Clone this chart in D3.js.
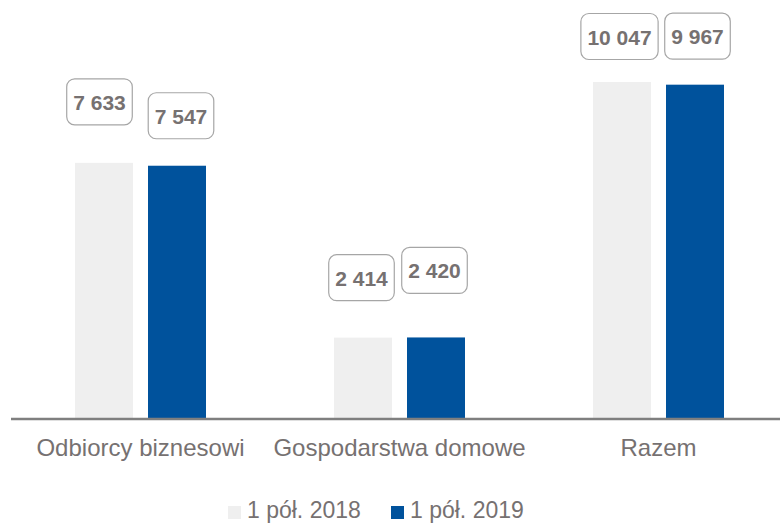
<!DOCTYPE html>
<html>
<head>
  <meta charset="utf-8">
  <script src="https://cdn.jsdelivr.net/npm/d3@7/dist/d3.min.js"></script>
  <style>
    body { margin: 0; background: #fff; }
    text { font-family: "Liberation Sans", Arial, sans-serif; }
  </style>
</head>
<body>
  <svg width="780" height="525" id="chart"></svg>
  <script>
    // data
    const categories = ['Odbiorcy biznesowi', 'Gospodarstwa domowe', 'Razem'];
    const seriesNames = ['1 pół. 2018', '1 pół. 2019'];
    const values2018 = [7633, 2414, 10047];
    const values2019 = [7547, 2420, 9967];
    const valueLabels2018 = ['7 633', '2 414', '10 047'];
    const valueLabels2019 = ['7 547', '2 420', '9 967'];

    // hand placed label boxes (offset from bar centre / bar top)
    const labelShiftX = [[-4.5, -1.5, -2.5], [4, -1.5, 2.5]];
    const labelShiftY = [[-61, -60, -45.5], [-50, -67, -48.5]];

    const colors = ['#efefef', '#00529c'];
    const textGrey = '#767171';

    const svg = d3.select('#chart');
    const baseY = 418.5;

    const x0 = d3.scaleBand().domain(categories).range([11, 788]);
    const x1 = d3.scaleBand().domain(seriesNames)
      .range([0, x0.bandwidth()])
      .paddingInner(15 / 73)
      .paddingOuter(0.8767);
    const y = d3.scaleLinear().domain([0, 12000])
      .range([baseY, baseY - 12000 * 336.5 / 10047]);

    const allValues = [values2018, values2019];
    const allLabels = [valueLabels2018, valueLabels2019];

    const rows = [];
    categories.forEach((c, i) => {
      seriesNames.forEach((s, j) => {
        rows.push({ cat: c, series: s, si: j, ci: i, value: allValues[j][i], label: allLabels[j][i] });
      });
    });

    // bars
    svg.append('g').selectAll('rect').data(rows).join('rect')
      .attr('x', d => x0(d.cat) + x1(d.series))
      .attr('width', x1.bandwidth())
      .attr('y', d => y(d.value))
      .attr('height', d => y(0) - y(d.value))
      .attr('fill', d => colors[d.si]);

    // axis line + category labels
    const xAxis = d3.axisBottom(x0).tickSize(0).tickPadding(20);
    const xg = svg.append('g').attr('transform', `translate(0, ${baseY + 0.5})`).call(xAxis);
    xg.select('.domain').remove();
    xg.append('line')
      .attr('x1', 11).attr('x2', 780)
      .attr('stroke', '#7f7f7f').attr('stroke-width', 2.6);
    xg.selectAll('.tick text')
      .attr('font-size', '24px')
      .attr('fill', textGrey)
      .attr('font-family', '"Liberation Sans", Arial, sans-serif')
      .attr('dy', 0).attr('y', 37);

    // value label boxes
    const lg = svg.append('g').selectAll('g').data(rows).join('g')
      .attr('transform', d => {
        const cx = x0(d.cat) + x1(d.series) + x1.bandwidth() / 2 + labelShiftX[d.si][d.ci];
        const cy = y(d.value) + labelShiftY[d.si][d.ci];
        return `translate(${cx}, ${cy})`;
      });
    lg.append('text')
      .attr('text-anchor', 'middle')
      .attr('y', 8)
      .attr('font-size', '21px')
      .attr('font-weight', 'bold')
      .attr('fill', textGrey)
      .text(d => d.label);
    lg.each(function () {
      const g = d3.select(this);
      const w = g.select('text').node().getComputedTextLength() + 13;
      g.insert('rect', 'text')
        .attr('x', -w / 2).attr('y', -23)
        .attr('width', w).attr('height', 46)
        .attr('rx', 8)
        .attr('fill', '#fff')
        .attr('stroke', '#a6a6a6')
        .attr('stroke-width', 1.2);
    });

    // legend
    const legendX = [228, 391];
    const leg = svg.append('g').selectAll('g').data(seriesNames).join('g')
      .attr('transform', (d, i) => `translate(${legendX[i]}, 506)`);
    leg.append('rect')
      .attr('width', 13).attr('height', 13)
      .attr('fill', (d, i) => colors[i]);
    leg.append('text')
      .attr('x', 19).attr('y', 12)
      .attr('font-size', '23px')
      .attr('fill', textGrey)
      .text(d => d);
  </script>
</body>
</html>
